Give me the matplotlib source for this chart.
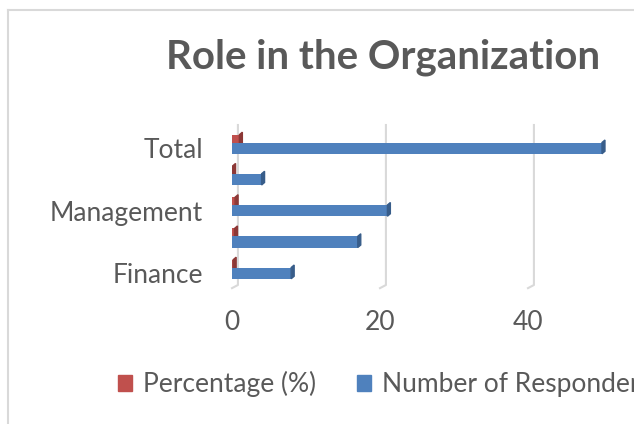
import numpy as np
import matplotlib
matplotlib.use("Agg")
import matplotlib.pyplot as plt
from matplotlib.patches import Polygon, Patch
from matplotlib.lines import Line2D

# data (bottom to top); the 2nd and 4th labels are hidden in the original
categories = ['Finance', 'Operations', 'Management', 'Support', 'Total']
respondents = [8, 17, 21, 4, 50]
percentage = [0.16, 0.34, 0.42, 0.08, 1.0]
x_ticks = [0, 20, 40]

W, H = 634, 424
TXT = '#595959'
BLUE, BLUE_SIDE = '#4f81bd', '#385d8a'
RED, RED_SIDE = '#c0504d', '#8c3836'
plt.rcParams['font.family'] = ['Lato', 'DejaVu Sans']

fig = plt.figure(figsize=(W / 100, H / 100), dpi=100)

# chart area border (cropped on the right and bottom)
fig.add_artist(Line2D([8 / W, 8 / W], [0, 1 - 10 / H], color='#d9d9d9', lw=1.5))
fig.add_artist(Line2D([8 / W, 1], [1 - 10 / H, 1 - 10 / H], color='#d9d9d9', lw=1.5))

ax = fig.add_axes([232 / W, 139 / H, 444 / W, 160 / H])
y = np.arange(len(categories))
ax.set_xlim(0, 60)
ax.set_ylim(-0.38, 4.74)


def add_side(bars, color):
    # fake 3D end face
    for b in bars:
        x1 = b.get_x() + b.get_width()
        y0, y1 = b.get_y(), b.get_y() + b.get_height()
        ax.add_patch(Polygon([(x1, y0), (x1 + 0.4, y0 + 0.08), (x1 + 0.4, y1 + 0.08), (x1, y1)],
                             closed=True, color=color, zorder=b.get_zorder()))


red = ax.barh(y + 0.26, percentage, height=0.34, color=RED, zorder=2)
add_side(red, RED_SIDE)
blue = ax.barh(y, respondents, height=0.36, color=BLUE, zorder=3)
add_side(blue, BLUE_SIDE)

# back wall gridlines with a short floor tail
for t in x_ticks + [60]:
    ax.plot([t, t + 0.8, t + 0.8], [-0.48, -0.38, 4.74], color='#d9d9d9', lw=1.5,
            zorder=1, clip_on=False)

for s in ax.spines.values():
    s.set_visible(False)
ax.set_xticks(x_ticks)
ax.set_yticks(y[::2])
ax.set_yticklabels(categories[::2])
ax.tick_params(length=0, colors=TXT, labelsize=19)
ax.tick_params(axis='x', pad=18)
ax.tick_params(axis='y', pad=21)

fig.text(383 / W, 1 - 57 / H, 'Role in the Organization', ha='center', va='center',
         fontsize=29, fontweight='bold', color=TXT)

handles = [Patch(color=RED), Patch(color=BLUE)]
fig.legend(handles, ['Percentage (%)', 'Number of Respondents'], loc='center left',
           bbox_to_anchor=(94 / W, 1 - 384 / H), ncol=2, frameon=False,
           fontsize=19, labelcolor=TXT, handlelength=0.55, handleheight=0.55,
           handletextpad=0.4, columnspacing=1.55)

fig.savefig('out.png', dpi=100)
